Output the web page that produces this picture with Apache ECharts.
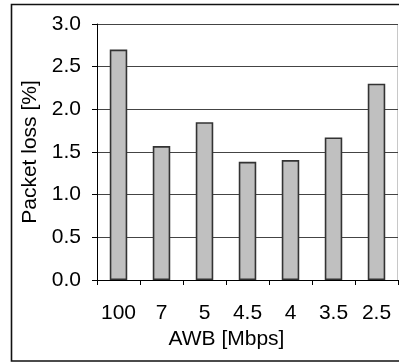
<!DOCTYPE html>
<html>
<head>
<meta charset="utf-8">
<script src="https://cdn.jsdelivr.net/npm/echarts@6/dist/echarts.min.js"></script>
<style>
  html, body { margin: 0; padding: 0; background: #fff; }
  #chart { width: 399px; height: 363px; }
</style>
</head>
<body>
<div id="chart"></div>
<script>
// Packet loss per available bandwidth setting
const categories = ['100', '7', '5', '4.5', '4', '3.5', '2.5'];
const packetLoss = [2.7, 1.57, 1.85, 1.385, 1.405, 1.67, 2.3];
const yTicks = { min: 0, max: 3, interval: 0.5 };

const FONT = '"Liberation Sans", Arial, sans-serif';
const FS = 21;

const chart = echarts.init(document.getElementById('chart'), null, { renderer: 'canvas' });

chart.setOption({
  animation: false,
  backgroundColor: '#ffffff',
  textStyle: { fontFamily: FONT, color: '#000' },
  grid: { left: 97, right: 1, top: 24, bottom: 83, containLabel: false },
  graphic: [
    {
      // outer frame of the chart
      type: 'rect',
      shape: { x: 11.5, y: 4.5, width: 400, height: 356.5 },
      style: { fill: 'none', stroke: '#111', lineWidth: 1.6 },
      silent: true,
      z: 100
    },
    {
      // right edge of the plot area
      type: 'line',
      shape: { x1: 397.5, y1: 24, x2: 397.5, y2: 280 },
      style: { stroke: '#c8c8c8', lineWidth: 1 },
      silent: true
    }
  ],
  xAxis: {
    type: 'category',
    data: categories,
    name: 'AWB [Mbps]',
    nameLocation: 'middle',
    nameGap: 47,
    nameTextStyle: { fontSize: FS, fontFamily: FONT, color: '#000', padding: [0, 42, 0, 0] },
    axisLine: { show: true, lineStyle: { color: '#000', width: 1 } },
    axisTick: { show: true, alignWithLabel: false, interval: 0, length: 5, lineStyle: { color: '#000' } },
    axisLabel: { fontSize: FS, fontFamily: FONT, color: '#000', margin: 23, interval: 0 },
    splitLine: { show: false }
  },
  yAxis: {
    type: 'value',
    min: yTicks.min,
    max: yTicks.max,
    interval: yTicks.interval,
    name: 'Packet loss [%]',
    nameLocation: 'middle',
    nameGap: 55,
    nameTextStyle: { fontSize: FS, fontFamily: FONT, color: '#000' },
    axisLine: { show: true, lineStyle: { color: '#000', width: 1 } },
    axisTick: { show: true, length: 5, lineStyle: { color: '#000' } },
    axisLabel: {
      fontSize: FS,
      fontFamily: FONT,
      color: '#000',
      margin: 16,
      formatter: v => v.toFixed(1)
    },
    splitLine: { show: true, lineStyle: { color: '#444', width: 1 } }
  },
  series: [
    {
      type: 'bar',
      data: packetLoss,
      barWidth: 17.5,
      itemStyle: { color: '#c0c0c0', borderColor: '#333', borderWidth: 1.6 }
    }
  ]
});
</script>
</body>
</html>
